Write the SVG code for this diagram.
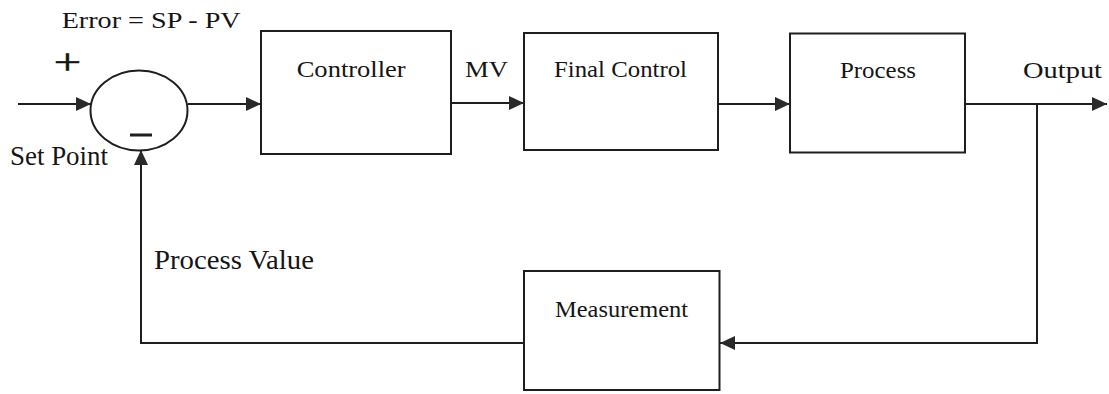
<svg xmlns="http://www.w3.org/2000/svg" width="1109" height="394" viewBox="0 0 1109 394">
  <style>
    .box { fill: #ffffff; stroke: #1e1e1e; stroke-width: 2; }
    .wire { fill: none; stroke: #1e1e1e; stroke-width: 2; }
    .lbl { font-family: "Liberation Serif", "Times New Roman", serif; fill: #151515; font-size: 23px; }
    .big { font-size: 27px; }
    .sign { font-family: "Liberation Serif", "Times New Roman", serif; fill: #151515; stroke: #151515; stroke-width: 0.6; }
  </style>
  <defs>
    <marker id="arrow" markerUnits="userSpaceOnUse" markerWidth="16" markerHeight="14" refX="15" refY="7" orient="auto">
      <path d="M0,0 L15,7 L0,14 Z" fill="#2a2a2a"/>
    </marker>
  </defs>

  <!-- connectors -->
  <g id="connectors">
    <line class="wire" x1="18" y1="104" x2="91" y2="104" marker-end="url(#arrow)"/>
    <line class="wire" x1="188" y1="104" x2="261" y2="104" marker-end="url(#arrow)"/>
    <line class="wire" x1="451" y1="103" x2="524" y2="103" marker-end="url(#arrow)"/>
    <line class="wire" x1="718" y1="104" x2="790" y2="104" marker-end="url(#arrow)"/>
    <line class="wire" x1="965" y1="104" x2="1107" y2="104" marker-end="url(#arrow)"/>
    <polyline class="wire" points="1037,104 1037,343 720,343" marker-end="url(#arrow)"/>
    <polyline class="wire" points="524,343 141,343 141,150" marker-end="url(#arrow)"/>
  </g>

  <!-- summing junction -->
  <g id="sum">
    <ellipse cx="139" cy="110.5" rx="48.5" ry="40" fill="#ffffff" stroke="#1e1e1e" stroke-width="2"/>
    <text class="sign" transform="translate(67.5,74) scale(1.35,1)" font-size="36" text-anchor="middle">+</text>
    <rect x="130" y="133.5" width="22" height="3" fill="#1e1e1e"/>
  </g>

  <g id="error-label">
    <text class="lbl" x="61.7" y="27.7" textLength="179" lengthAdjust="spacingAndGlyphs">Error = SP - PV</text>
  </g>
  <g id="setpoint-label">
    <text class="lbl big" x="10" y="165" textLength="98" lengthAdjust="spacingAndGlyphs">Set Point</text>
  </g>

  <g id="controller">
    <rect class="box" x="261" y="31" width="190" height="123"/>
    <text class="lbl" x="296.7" y="77" textLength="109" lengthAdjust="spacingAndGlyphs">Controller</text>
  </g>
  <g id="mv-label">
    <text class="lbl" x="465" y="77" textLength="43" lengthAdjust="spacingAndGlyphs">MV</text>
  </g>

  <g id="final-control">
    <rect class="box" x="524" y="33" width="194" height="117"/>
    <text class="lbl" x="554" y="77" textLength="133" lengthAdjust="spacingAndGlyphs">Final Control</text>
  </g>

  <g id="process">
    <rect class="box" x="790" y="33.5" width="175" height="119"/>
    <text class="lbl" x="840" y="78" textLength="76" lengthAdjust="spacingAndGlyphs">Process</text>
  </g>
  <g id="output-label">
    <text class="lbl" x="1023" y="78" textLength="79" lengthAdjust="spacingAndGlyphs">Output</text>
  </g>

  <g id="measurement">
    <rect class="box" x="524" y="271" width="195.5" height="119"/>
    <text class="lbl" x="555" y="316.7" textLength="133" lengthAdjust="spacingAndGlyphs">Measurement</text>
  </g>
  <g id="pv-label">
    <text class="lbl big" x="154" y="269" textLength="160" lengthAdjust="spacingAndGlyphs">Process Value</text>
  </g>
</svg>
